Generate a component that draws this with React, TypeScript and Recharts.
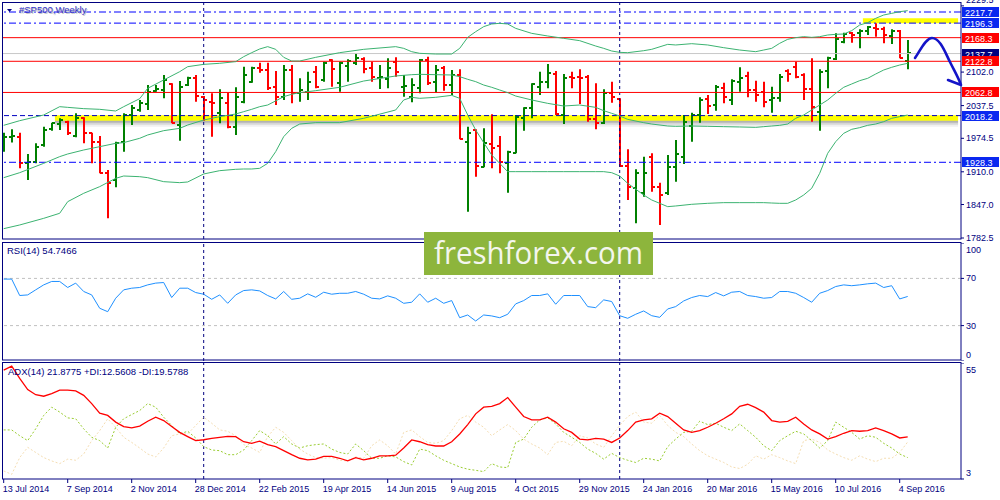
import React from 'react'
import { Bar, ComposedChart, Line, LineChart, ReferenceArea, ReferenceLine, XAxis, YAxis } from 'recharts'

// weekly bars, 13 Jul 2014 .. 11 Sep 2016 (bar index = week number)
const tickBars = [0, 8, 16, 24, 32, 40, 48, 56, 64, 72, 80, 88, 96, 104, 112]
const tickLabels = ['13 Jul 2014', '7 Sep 2014', '2 Nov 2014', '28 Dec 2014', '22 Feb 2015', '19 Apr 2015', '14 Jun 2015', '9 Aug 2015', '4 Oct 2015', '29 Nov 2015', '24 Jan 2016', '20 Mar 2016', '15 May 2016', '10 Jul 2016', '4 Sep 2016']

const opens = [
	1971.2, 1976.4, 1977.7, 1926.3, 1929.5, 1961.6, 1991.8, 2002.0, 2006.5, 1979.0,
	2012.9, 1984.1, 1968.0, 1907.1, 1894.2, 1968.0, 2019.4, 2029.0, 2040.6, 2066.2,
	2067.5, 2079.1, 2000.1, 2077.1, 2090.0, 2054.7, 2045.0, 2022.6, 2041.8, 1996.9,
	2045.0, 2083.6, 2109.2, 2106.0, 2072.7, 2054.7, 2106.0, 2062.4, 2064.3, 2102.8,
	2086.8, 2125.3, 2080.4, 2113.7, 2118.9, 2126.6, 2109.2, 2090.0, 2088.1, 2122.1,
	2072.7, 2054.7, 2070.7, 2125.3, 2083.6, 2109.2, 2077.1, 2096.4, 1968.0, 1990.5,
	1919.9, 1963.5, 1959.7, 1926.3, 1946.9, 2012.9, 2032.2, 2072.7, 2083.6, 2098.3,
	2019.4, 2091.9, 2091.9, 2091.9, 2011.0, 2003.3, 2061.1, 2050.2, 1921.2, 1878.2,
	1868.6, 1939.2, 1881.4, 1868.6, 1919.9, 1939.2, 1998.2, 2019.4, 2049.5, 2038.6,
	2070.7, 2048.3, 2083.6, 2094.5, 2067.5, 2064.3, 2048.3, 2051.5, 2104.7, 2112.4,
	2096.4, 2068.8, 2025.8, 2104.7, 2126.6, 2160.6, 2176.6, 2177.9, 2181.8, 2186.2,
	2184.3, 2171.5, 2181.8, 2124.0,
]
const highs = [
	1985.4, 1991.8, 1985.4, 1944.3, 1964.8, 1996.9, 2004.6, 2012.9, 2008.4, 2022.6,
	2014.9, 1985.4, 1979.0, 1913.5, 1968.0, 2022.6, 2038.6, 2048.3, 2077.1, 2077.1,
	2096.4, 2080.4, 2084.8, 2093.2, 2096.4, 2055.9, 2061.1, 2068.8, 2062.4, 2072.7,
	2112.4, 2112.4, 2120.1, 2120.1, 2104.1, 2115.6, 2115.6, 2090.0, 2102.8, 2113.7,
	2122.1, 2126.6, 2122.1, 2126.6, 2138.1, 2130.4, 2122.1, 2115.6, 2128.5, 2130.4,
	2096.4, 2090.0, 2127.2, 2131.7, 2115.6, 2113.7, 2106.0, 2107.3, 1996.9, 1991.8,
	1993.7, 2020.7, 1979.0, 1950.7, 2019.4, 2034.1, 2080.4, 2102.8, 2117.6, 2104.1,
	2098.3, 2102.8, 2107.3, 2096.4, 2080.4, 2068.8, 2083.6, 2051.5, 1953.3, 1914.8,
	1939.2, 1945.6, 1889.1, 1942.4, 1971.2, 2019.4, 2023.9, 2053.4, 2057.9, 2077.1,
	2081.6, 2088.1, 2111.2, 2102.8, 2085.5, 2083.6, 2073.9, 2098.3, 2107.3, 2122.1,
	2099.6, 2128.5, 2107.3, 2131.7, 2176.6, 2177.9, 2179.2, 2184.3, 2190.7, 2195.9,
	2189.5, 2184.3, 2183.0, 2163.8,
]
const lows = [
	1948.8, 1966.2, 1916.7, 1894.2, 1926.3, 1958.4, 1989.2, 1990.5, 1980.9, 1976.4,
	1964.8, 1926.3, 1907.1, 1820.4, 1880.1, 1948.8, 2000.1, 2025.8, 2029.0, 2064.3,
	2051.5, 2003.3, 1970.0, 2075.2, 2045.0, 2008.4, 1977.7, 2003.3, 1993.7, 1980.9,
	2041.8, 2081.6, 2100.9, 2067.5, 2038.6, 2048.3, 2041.8, 2045.0, 2048.3, 2070.7,
	2083.6, 2073.9, 2064.3, 2083.6, 2115.6, 2099.6, 2083.6, 2069.4, 2070.7, 2093.2,
	2054.7, 2043.8, 2061.1, 2077.1, 2062.4, 2066.2, 2057.9, 1972.5, 1833.3, 1900.6,
	1918.6, 1916.7, 1907.1, 1869.8, 1945.6, 1989.2, 2012.9, 2057.9, 2070.7, 2019.4,
	2002.0, 2070.7, 2040.6, 2006.5, 1991.8, 2002.0, 2043.1, 1919.9, 1855.7, 1810.8,
	1862.1, 1871.8, 1807.6, 1865.3, 1891.0, 1925.0, 1968.0, 2004.6, 2021.3, 2027.7,
	2041.8, 2038.6, 2064.3, 2053.4, 2045.0, 2034.1, 2023.9, 2045.0, 2083.6, 2090.0,
	2048.3, 2006.5, 1989.2, 2070.7, 2125.3, 2157.4, 2158.7, 2147.7, 2173.4, 2170.2,
	2157.4, 2156.1, 2128.5, 2107.3,
]
const closes = [
	1977.7, 1979.0, 1926.3, 1929.5, 1958.4, 1990.5, 2003.3, 2009.7, 1985.4, 2012.9,
	1984.1, 1968.0, 1907.1, 1887.8, 1964.8, 2019.4, 2032.2, 2041.8, 2064.3, 2068.8,
	2086.8, 2004.6, 2073.9, 2090.0, 2056.0, 2048.3, 2041.8, 2051.5, 1996.9, 2054.7,
	2096.4, 2109.2, 2106.0, 2070.7, 2054.7, 2106.0, 2061.1, 2067.5, 2083.6, 2073.9,
	2120.1, 2107.3, 2118.9, 2124.0, 2128.5, 2108.0, 2093.2, 2093.2, 2109.2, 2102.8,
	2075.2, 2077.1, 2125.3, 2080.4, 2106.0, 2077.1, 2096.4, 1972.5, 1985.4, 1921.8,
	1964.8, 1955.2, 1929.5, 1948.8, 2014.9, 2032.2, 2078.4, 2083.6, 2099.6, 2020.7,
	2090.0, 2090.0, 2090.0, 2011.0, 2003.3, 2061.1, 2054.7, 1921.2, 1880.1, 1907.1,
	1907.1, 1881.4, 1865.3, 1919.9, 1944.3, 2006.5, 2019.4, 2048.3, 2036.7, 2073.9,
	2054.7, 2085.5, 2090.0, 2067.5, 2057.9, 2045.0, 2051.5, 2091.9, 2098.3, 2091.9,
	2068.8, 2035.4, 2102.8, 2128.5, 2165.1, 2174.7, 2173.4, 2181.8, 2188.2, 2184.3,
	2173.4, 2181.8, 2128.5, 2138.1,
]

// Bollinger bands at [bar, value]
const bbUpperPts: [number, number][] = [
	[0, 1999.5], [2, 2008.4], [5, 2019.4], [7, 2035.4], [8, 2034.1], [10, 2031.6], [12, 2030.3], [14, 2027.1], [15, 2035.4], [17, 2050.8],
	[18, 2070.7], [20, 2086.8], [22, 2102.8], [23, 2112.4], [25, 2116.9], [27, 2118.9], [29, 2122.1], [30, 2131.7], [31, 2139.4], [32, 2146.5],
	[33, 2151.0], [34, 2145.8], [35, 2130.4], [36, 2123.3], [37, 2123.3], [39, 2130.4], [42, 2139.4], [45, 2145.8], [49, 2151.0], [50, 2147.7],
	[51, 2141.3], [52, 2138.1], [54, 2136.8], [56, 2136.8], [57, 2147.7], [58, 2168.9], [59, 2179.8], [60, 2189.5], [61, 2194.6], [62, 2195.9],
	[63, 2194.6], [64, 2186.2], [66, 2176.6], [68, 2171.5], [70, 2167.0], [72, 2162.5], [74, 2152.2], [75, 2147.7], [76, 2142.6], [77, 2140.0],
	[78, 2139.4], [80, 2143.2], [81, 2145.8], [83, 2155.4], [84, 2154.2], [86, 2156.7], [88, 2154.2], [90, 2149.0], [92, 2144.5], [94, 2141.3],
	[95, 2144.5], [96, 2147.7], [97, 2157.4], [98, 2165.1], [99, 2168.3], [100, 2170.2], [101, 2168.9], [102, 2170.2], [103, 2173.4], [104, 2174.7],
	[105, 2175.3], [106, 2181.8], [107, 2192.7], [108, 2197.2], [109, 2205.5], [110, 2211.9], [111, 2215.1], [112, 2218.3], [113, 2220.3],
]
const bbMiddlePts: [number, number][] = [
	[0, 1898.7], [2, 1908.3], [5, 1926.3], [7, 1939.2], [8, 1944.3], [10, 1952.0], [12, 1958.4], [14, 1964.8], [15, 1966.2], [17, 1974.5],
	[18, 1980.9], [20, 1989.2], [22, 1993.7], [23, 2000.1], [25, 2009.7], [27, 2016.2], [29, 2021.3], [30, 2025.8], [31, 2030.3], [32, 2035.4],
	[33, 2038.6], [34, 2046.5], [35, 2054.7], [36, 2059.2], [37, 2062.4], [39, 2066.2], [42, 2072.7], [45, 2084.8], [49, 2094.5], [50, 2095.8],
	[51, 2097.0], [52, 2097.7], [54, 2097.0], [56, 2096.4], [57, 2093.2], [58, 2088.1], [59, 2083.6], [60, 2077.1], [61, 2072.7], [62, 2067.5],
	[63, 2062.4], [64, 2055.9], [66, 2048.3], [68, 2041.8], [70, 2036.7], [72, 2038.6], [74, 2034.1], [75, 2027.7], [76, 2022.6], [77, 2017.5],
	[78, 2011.0], [80, 2004.6], [81, 2002.0], [83, 1998.2], [84, 1997.6], [86, 1998.2], [88, 1997.6], [90, 1996.9], [92, 1996.3], [94, 1995.6],
	[95, 1996.9], [96, 1998.2], [97, 1999.5], [98, 2002.0], [99, 2013.0], [100, 2019.4], [101, 2029.0], [102, 2038.6], [103, 2048.3], [104, 2061.1],
	[105, 2072.7], [106, 2079.1], [107, 2085.5], [108, 2090.0], [109, 2098.3], [110, 2106.0], [111, 2111.2], [112, 2115.6], [113, 2118.9],
]
const bbLowerPts: [number, number][] = [
	[0, 1800.5], [2, 1807.6], [5, 1820.4], [7, 1830.1], [8, 1852.5], [10, 1868.6], [12, 1881.4], [14, 1897.4], [15, 1901.9], [17, 1900.6],
	[18, 1898.7], [20, 1891.0], [22, 1889.1], [23, 1890.4], [25, 1905.8], [27, 1912.2], [29, 1914.8], [30, 1915.4], [31, 1915.4], [32, 1916.7],
	[33, 1926.3], [34, 1948.8], [35, 1977.7], [36, 1993.7], [37, 2002.0], [39, 2004.6], [42, 2004.6], [45, 2013.0], [49, 2029.0], [50, 2048.3],
	[51, 2053.4], [52, 2051.5], [54, 2053.4], [56, 2057.2], [57, 2051.5], [58, 2019.4], [59, 1990.5], [60, 1966.2], [61, 1942.4], [62, 1926.3],
	[63, 1910.3], [64, 1910.3], [66, 1910.3], [68, 1910.3], [70, 1910.3], [72, 1910.3], [74, 1910.3], [75, 1910.3], [76, 1908.3], [77, 1901.9],
	[78, 1887.8], [80, 1865.3], [81, 1855.7], [83, 1842.9], [84, 1844.2], [86, 1847.4], [88, 1849.3], [90, 1850.6], [92, 1850.6], [94, 1850.6],
	[95, 1850.6], [96, 1849.9], [97, 1849.3], [98, 1849.3], [99, 1855.7], [100, 1865.3], [101, 1878.2], [102, 1907.1], [103, 1945.6], [104, 1968.0],
	[105, 1984.1], [106, 1991.8], [107, 1995.0], [108, 1999.5], [109, 2002.0], [110, 2006.5], [111, 2013.0], [112, 2016.2], [113, 2019.4],
]

const rsi = [
	69.4, 69.4, 55.5, 56.0, 60.3, 64.5, 67.4, 67.4, 62.3, 66.0,
	58.9, 56.0, 44.7, 41.8, 53.2, 60.3, 61.7, 62.3, 64.5, 66.0,
	66.5, 53.8, 61.7, 61.7, 58.0, 56.6, 52.3, 56.0, 48.9, 56.0,
	59.7, 60.3, 59.4, 55.5, 52.6, 58.9, 52.3, 53.2, 56.9, 54.0,
	58.3, 56.6, 57.4, 57.4, 58.9, 56.6, 53.2, 52.6, 55.2, 53.2,
	48.9, 49.8, 56.9, 49.8, 53.2, 48.9, 51.2, 36.7, 39.0, 33.9,
	39.0, 38.2, 36.7, 39.6, 48.4, 51.2, 55.5, 55.5, 56.9, 48.1,
	55.5, 55.5, 55.5, 46.1, 45.2, 51.8, 50.4, 38.4, 36.2, 39.6,
	42.4, 38.4, 37.0, 44.1, 46.1, 50.9, 53.8, 55.5, 54.6, 58.0,
	55.2, 58.3, 58.9, 55.5, 54.6, 53.2, 53.8, 58.9, 58.9, 57.4,
	53.8, 49.8, 57.4, 59.7, 63.1, 64.5, 63.8, 64.5, 65.4, 66.0,
	62.3, 63.8, 52.6, 54.7,
]
const adx = [
	51.8, 53.6, 48.1, 43.1, 40.8, 40.1, 41.3, 42.8, 42.8, 42.5,
	40.5, 36.8, 32.5, 31.5, 28.5, 26.5, 25.9, 26.7, 28.9, 30.7,
	29.2, 26.5, 23.9, 22.0, 20.2, 20.6, 21.2, 21.7, 22.1, 22.0,
	19.7, 19.0, 20.0, 18.4, 17.5, 15.7, 13.9, 12.3, 11.6, 11.9,
	13.1, 13.1, 12.3, 11.1, 12.6, 11.6, 12.3, 13.4, 13.4, 13.7,
	16.9, 20.5, 19.7, 18.4, 17.8, 17.8, 19.7, 23.2, 27.4, 32.2,
	35.2, 35.6, 36.8, 39.5, 35.2, 31.0, 29.5, 29.5, 30.7, 28.5,
	25.5, 23.9, 20.9, 20.5, 21.2, 20.9, 19.4, 21.4, 24.7, 28.5,
	29.5, 30.0, 32.5, 31.0, 28.0, 25.0, 23.9, 24.7, 26.2, 28.0,
	30.0, 32.2, 35.6, 36.5, 35.0, 33.0, 29.2, 28.5, 28.8, 30.7,
	27.7, 25.0, 23.2, 20.9, 22.0, 23.5, 24.7, 24.4, 24.7, 25.9,
	24.7, 23.2, 21.4, 21.9,
]
const plusDi = [
	25.0, 25.0, 22.4, 20.2, 25.5, 31.5, 35.2, 33.0, 30.4, 30.0,
	25.5, 21.7, 20.2, 16.9, 26.2, 30.0, 31.9, 33.7, 36.8, 35.2,
	30.7, 27.0, 23.2, 24.4, 21.4, 17.5, 16.0, 15.7, 13.9, 13.9,
	16.0, 20.2, 24.7, 22.4, 18.7, 22.0, 18.7, 16.9, 17.9, 18.4,
	18.7, 16.4, 14.9, 14.2, 18.7, 15.7, 12.3, 12.3, 13.4, 12.9,
	10.8, 9.3, 16.4, 15.7, 13.4, 11.4, 9.9, 8.4, 7.4, 6.9,
	6.3, 9.9, 8.4, 8.1, 19.4, 20.9, 26.2, 29.5, 30.4, 27.7,
	23.9, 21.7, 19.4, 16.4, 14.5, 11.9, 14.5, 12.6, 11.4, 10.4,
	12.3, 11.9, 11.1, 17.5, 20.9, 23.9, 24.4, 28.9, 27.4, 28.0,
	26.2, 24.7, 27.7, 24.7, 21.7, 17.9, 15.7, 20.2, 22.4, 24.4,
	23.2, 20.2, 16.9, 20.2, 28.5, 26.2, 23.9, 20.9, 22.4, 21.7,
	19.0, 16.9, 14.2, 12.6,
]
const minusDi = [
	6.6, 5.1, 12.6, 17.2, 14.9, 12.6, 11.1, 9.9, 11.9, 11.4,
	14.2, 20.2, 24.7, 30.0, 26.2, 21.7, 19.4, 16.9, 14.2, 12.9,
	16.9, 22.4, 23.2, 23.2, 27.0, 30.7, 28.0, 25.0, 24.4, 22.4,
	18.4, 16.9, 14.9, 22.0, 26.2, 23.9, 20.2, 16.4, 14.2, 12.6,
	12.3, 12.6, 11.4, 11.1, 12.9, 12.3, 17.9, 20.5, 17.9, 14.2,
	23.9, 25.0, 22.0, 19.4, 19.0, 20.2, 24.7, 30.0, 31.5, 28.5,
	26.2, 22.4, 25.0, 27.4, 24.7, 20.9, 18.7, 16.9, 13.9, 19.4,
	19.9, 17.9, 22.4, 21.4, 18.7, 17.2, 22.4, 27.0, 31.0, 33.0,
	28.5, 28.0, 31.5, 27.0, 23.9, 22.0, 18.7, 15.7, 13.4, 11.9,
	10.4, 8.4, 7.7, 9.6, 13.4, 11.9, 13.9, 12.6, 11.1, 9.9,
	20.2, 20.9, 19.4, 16.0, 14.2, 12.6, 11.4, 13.4, 11.9, 10.8,
	12.3, 12.3, 14.9, 19.6,
]

const priceTicks = [1782.5, 1847.0, 1910.0, 1974.5, 2037.5, 2102.0, 2229.5]
const blueLevels = [2217.7, 2196.3, 1928.3]
const redLevels = [2168.3, 2122.8, 2062.8]
const supportLevel = 2018.2
const bidPrice = 2137.7
const supportZone = { from: 6.4, to: 119.3, low: 2008.4, high: 2019.0 }
const topZone = { from: 107.4, to: 119.3, low: 2196.0, high: 2205.6 }
const yearStarts = [25, 77]
const rsiTicks = [0, 30, 70, 100]
const rsiLevels = [30, 70]
const adxTicks = [3, 55]

const spread = (pts: [number, number][]) => {
	const out: (number | null)[] = opens.map(() => null)
	pts.forEach(([i, v]) => { out[i] = v })
	return out
}
const bbUpper = spread(bbUpperPts)
const bbMiddle = spread(bbMiddlePts)
const bbLower = spread(bbLowerPts)

const rows = opens.map((o, i) => ({
	i, o, h: highs[i], l: lows[i], c: closes[i],
	range: [lows[i], highs[i]],
	up: bbUpper[i], mid: bbMiddle[i], dn: bbLower[i],
	rsi: rsi[i], adx: adx[i], pdi: plusDi[i], mdi: minusDi[i],
}))

const NAVY = '#000080'
const FONT = '"Liberation Sans", Arial, sans-serif'
const X_DOMAIN = [-0.2125, 119.6625]

const OhlcBar = (props: any) => {
	const { x, y, width, height, payload } = props
	if (height == null) return null
	const cx = Math.round(x + width / 2)
	const span = payload.h - payload.l || 1
	const yo = Math.round(y + ((payload.h - payload.o) / span) * height)
	const yc = Math.round(y + ((payload.h - payload.c) / span) * height)
	const color = payload.c >= payload.o ? '#008000' : '#ff0000'
	return (
		<g stroke={color} strokeWidth={2}>
			<line x1={cx} x2={cx} y1={y} y2={y + height} />
			<line x1={cx - 3} x2={cx} y1={yo} y2={yo} />
			<line x1={cx} x2={cx + 3} y1={yc} y2={yc} />
		</g>
	)
}

const topPriceTick = priceTicks[priceTicks.length - 1]

const PriceTick = (props: any) => {
	const { x, y, payload } = props
	// the topmost label sits half outside the window, as in the terminal
	const dy = payload.value === topPriceTick ? -6 : 0
	return (
		<g>
			<line x1={x} x2={x + 3} y1={y} y2={y} stroke={NAVY} />
			<text x={x + 5} y={y + 3 + dy} fontSize={9} fontFamily={FONT} fill={NAVY}>{payload.value.toFixed(1)}</text>
		</g>
	)
}

// panel ticks: top/bottom labels are pulled inside the panel
const panelTick = (top: number, bottom: number) => (props: any) => {
	const { x, y, payload } = props
	const dy = payload.value === top ? 7 : payload.value === bottom ? -6 : 0
	return (
		<g>
			<line x1={x} x2={x + 3} y1={y} y2={y} stroke={NAVY} />
			<text x={x + 5} y={y + 3 + dy} fontSize={9} fontFamily={FONT} fill={NAVY}>{payload.value}</text>
		</g>
	)
}

const DateTick = (props: any) => {
	const { x, y, payload } = props
	const k = tickBars.indexOf(payload.value)
	return (
		<g>
			<line x1={x} x2={x} y1={y} y2={y + 4} stroke={NAVY} />
			<text x={x - 1} y={y + 13} fontSize={9} fontFamily={FONT} fill={NAVY}>{tickLabels[k]}</text>
		</g>
	)
}

const priceTag = (value: number, bg: string) => (props: any) => {
	const vb = props.viewBox
	if (!vb) return null
	const right = vb.x + vb.width
	const y = Math.round(vb.y)
	return (
		<g>
			<rect x={right + 1} y={y - 5} width={37} height={10} fill={bg} />
			<text x={right + 4} y={y + 3.5} fontSize={9} fontFamily={FONT} fill='#ffffff'>{value.toFixed(1)}</text>
		</g>
	)
}

const yearLines = yearStarts.map(b => (
	<ReferenceLine key={'y' + b} x={b} stroke={NAVY} strokeDasharray='3 3' />
))

const PriceChart = () => (
	<ComposedChart width={1000} height={245} data={rows} margin={{ top: 2, right: 0, bottom: 6, left: 2 }}>
		<XAxis dataKey='i' type='number' domain={X_DOMAIN} allowDataOverflow hide />
		<YAxis orientation='right' width={39} domain={[1780.6, 2236.96]} allowDataOverflow ticks={priceTicks}
			axisLine={false} tickLine={false} tickSize={0} tickMargin={0} tick={<PriceTick />} interval={0} />
		<ReferenceArea x1={supportZone.from} x2={supportZone.to} y1={supportZone.low} y2={supportZone.high} fill='#ffff00' fillOpacity={1} stroke='none' />
		<ReferenceArea x1={supportZone.from} x2={supportZone.to} y1={supportZone.low - 3.9} y2={supportZone.low} fill='#000' fillOpacity={0.3} stroke='none' />
		<ReferenceArea x1={supportZone.from} x2={supportZone.to} y1={supportZone.low - 7.8} y2={supportZone.low - 3.9} fill='#000' fillOpacity={0.16} stroke='none' />
		<ReferenceArea x1={supportZone.from} x2={supportZone.to} y1={supportZone.low - 11.7} y2={supportZone.low - 7.8} fill='#000' fillOpacity={0.06} stroke='none' />
		<ReferenceArea x1={topZone.from} x2={topZone.to} y1={topZone.low} y2={topZone.high} fill='#ffff00' fillOpacity={1} stroke='none' />
		{yearLines}
		<ReferenceLine y={bidPrice} stroke='#c8c8c8' label={priceTag(bidPrice, NAVY)} />
		{redLevels.map(p => (
			<ReferenceLine key={'r' + p} y={p} stroke='#ff0000' label={priceTag(p, '#ff0000')} />
		))}
		{blueLevels.map(p => (
			<ReferenceLine key={'b' + p} y={p} stroke='#0000ff' strokeDasharray='7 3 2 3' label={priceTag(p, '#0a28f0')} />
		))}
		<ReferenceLine y={supportLevel} stroke='#0000c0' strokeDasharray='5 3' label={priceTag(supportLevel, '#0a28f0')} />
		<Line dataKey='up' stroke='#3cb371' dot={false} connectNulls isAnimationActive={false} />
		<Line dataKey='mid' stroke='#3cb371' dot={false} connectNulls isAnimationActive={false} />
		<Line dataKey='dn' stroke='#3cb371' dot={false} connectNulls isAnimationActive={false} />
		<Bar dataKey='range' barSize={6} shape={<OhlcBar />} isAnimationActive={false} />
	</ComposedChart>
)

const RsiChart = () => (
	<LineChart width={1000} height={118} data={rows} margin={{ top: 0, right: 0, bottom: 0, left: 2 }}>
		<XAxis dataKey='i' type='number' domain={X_DOMAIN} allowDataOverflow hide />
		<YAxis orientation='right' width={39} domain={[0, 100]} ticks={rsiTicks} interval={0}
			axisLine={false} tickLine={false} tickSize={0} tickMargin={0} tick={panelTick(100, 0)} />
		{rsiLevels.map(v => <ReferenceLine key={v} y={v} stroke='#c0c0c0' strokeDasharray='3 3' />)}
		{yearLines}
		<Line dataKey='rsi' stroke='#1e90ff' dot={false} isAnimationActive={false} />
	</LineChart>
)

const AdxChart = () => (
	<LineChart width={1000} height={137} data={rows} margin={{ top: 0, right: 0, bottom: 0, left: 2 }}>
		<XAxis dataKey='i' type='number' domain={X_DOMAIN} allowDataOverflow ticks={tickBars} interval={0} height={21}
			axisLine={false} tickLine={false} tickSize={0} tickMargin={0} tick={<DateTick />} />
		<YAxis orientation='right' width={39} domain={[3, 55]} allowDataOverflow ticks={adxTicks} interval={0}
			axisLine={false} tickLine={false} tickSize={0} tickMargin={0} tick={panelTick(55, 3)} />
		{yearLines}
		<Line dataKey='mdi' stroke='#f5deb3' strokeDasharray='2 2' dot={false} isAnimationActive={false} />
		<Line dataKey='pdi' stroke='#9acd32' strokeDasharray='2 2' dot={false} isAnimationActive={false} />
		<Line dataKey='adx' stroke='#ff0000' strokeWidth={1.3} dot={false} isAnimationActive={false} />
	</LineChart>
)

const Overlay = () => (
	<svg width={1000} height={500} style={{ position: 'absolute', left: 0, top: 0, pointerEvents: 'none' }}>
		<g fill='none' stroke={NAVY}>
			<rect x={2.5} y={2.5} width={958.5} height={236.5} />
			<rect x={2.5} y={242.5} width={958.5} height={117.5} />
			<rect x={2.5} y={362.5} width={958.5} height={116.5} />
		</g>
		<g fontFamily={FONT} fontSize={9.5}>
			<path d='M7 9 L12 9 L9.5 12 Z' fill={NAVY} />
			<text x={20} y={14} fill='#c0c0c0'>#SP500,Weekly</text>
			<text x={19} y={13} fill='#3030c8'>#SP500,Weekly</text>
			<text x={7} y={254} fill={NAVY}>RSI(14) 54.7466</text>
			<text x={8} y={375} fill={NAVY}>ADX(14) 21.8775 +DI:12.5608 -DI:19.5788</text>
		</g>
		<path d='M915 58 C921 49 926 38 932 38 C940 38 945 52 950 62 C955 72 959 79 961 85 M948 80 L961 85'
			fill='none' stroke='#1414c8' strokeWidth={2.6} strokeLinecap='round' strokeLinejoin='round' />
		<rect x={424} y={232} width={229} height={43} fill='#8db53c' />
		<text x={434} y={264} fontFamily='"Open Sans", sans-serif' fontSize={31} fill='#f4f6ee'
			textLength={209} lengthAdjust='spacingAndGlyphs'>freshforex.com</text>
	</svg>
)

const App = () => (
	<div style={{ position: 'absolute', left: 0, top: 0, width: 1000, height: 500, background: '#ffffff', overflow: 'hidden' }}>
		<div style={{ position: 'absolute', left: 0, top: 0 }}><PriceChart /></div>
		<div style={{ position: 'absolute', left: 0, top: 243 }}><RsiChart /></div>
		<div style={{ position: 'absolute', left: 0, top: 363 }}><AdxChart /></div>
		<Overlay />
	</div>
)

export default App
